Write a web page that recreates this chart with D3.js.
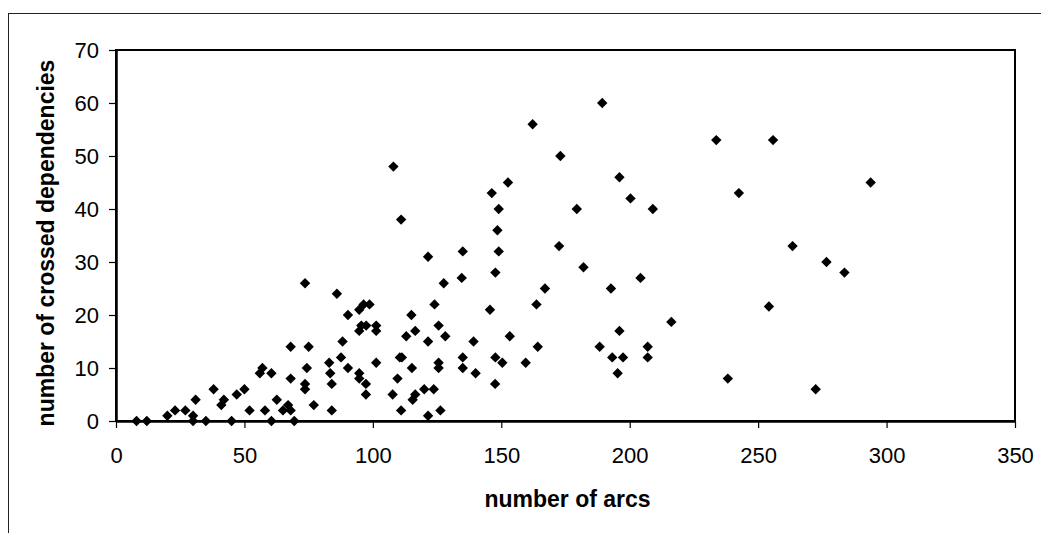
<!DOCTYPE html>
<html>
<head>
<meta charset="utf-8">
<script src="https://cdn.jsdelivr.net/npm/d3@7"></script>
<style>
  html, body { margin: 0; padding: 0; background: #fff; }
  svg { display: block; }
  text { font-family: "Liberation Sans", Arial, Helvetica, sans-serif; fill: #000; }
</style>
</head>
<body>
<svg id="chart" width="1041" height="533"></svg>
<script>
// ---- data ----
const arcs = [
  8, 12, 20, 23, 27, 30, 30, 31, 35, 38, 41, 42, 45, 47, 50, 52, 56, 57, 58, 60.5,
  60.5, 62.6, 65, 67, 68, 68, 68, 69.4, 108, 111, 121.5, 135, 134.6, 73.6, 86, 127.6, 90.3, 94.7, 96.4, 98.7,
  124, 115, 94.7, 95.5, 97.4, 101.3, 101.3, 113, 116.5, 125.6, 128.2, 139.2, 121.5, 88.2, 75, 87.6, 83, 110.5, 111.3, 135,
  125.6, 125.6, 101.3, 74.3, 90.3, 115.2, 135, 140, 83.4, 94.7, 94.7, 109.6, 73.6, 73.6, 84, 97.3, 120, 123.7, 97.3, 107.7,
  116.5, 115.5, 77, 84, 111, 126.3, 121.5, 189.3, 162.2, 173, 196, 152.6, 146.3, 200.3, 149, 179.4, 209, 148.5,
  149, 172.5, 147.7, 182, 204.2, 167, 192.7, 163.7, 145.6, 153.3, 196, 164.2, 188.3, 207, 147.7, 150.4, 159.5, 193.2,
  197.4, 207, 195.3, 147.6, 233.7, 255.8, 242.5, 263.4, 276.6, 216.2, 254.2, 238.2, 272.4, 283.6, 293.8
];
const crossed = [
  0, 0, 1, 2, 2, 1, 0, 4, 0, 6, 3, 4, 0, 5, 6, 2, 9, 10, 2, 9,
  0, 4, 2, 3, 2, 14, 8, 0, 48, 38, 31, 32, 27, 26, 24, 26, 20, 21, 22, 22,
  22, 20, 17, 18, 18, 18, 17, 16, 17, 18, 16, 15, 15, 15, 14, 12, 11, 12, 12, 12,
  11, 10, 11, 10, 10, 10, 10, 9, 9, 9, 8, 8, 7, 6, 7, 7, 6, 6, 5, 5,
  5, 4, 3, 2, 2, 2, 1, 60, 56, 50, 46, 45, 43, 42, 40, 40, 40, 36,
  32, 33, 28, 29, 27, 25, 25, 22, 21, 16, 17, 14, 14, 14, 12, 11, 11, 12,
  12, 12, 9, 7, 53, 53, 43, 33, 30, 18.7, 21.6, 8, 6, 28, 45
];
const xTicks = [0, 50, 100, 150, 200, 250, 300, 350];
const yTicks = [0, 10, 20, 30, 40, 50, 60, 70];
const xTitle = "number of arcs";
const yTitle = "number of crossed dependencies";

// ---- layout ----
const svg = d3.select("#chart");
const pLeft = 116, pRight = 1015, pTop = 50, pBottom = 421;

const x = d3.scaleLinear().domain([0, 350]).range([pLeft, pRight]);
const y = d3.scaleLinear().domain([0, 70]).range([pBottom, pTop]);

// outer frame (cropped at right/bottom)
svg.append("rect")
  .attr("x", 8.5).attr("y", 13.5)
  .attr("width", 1100).attr("height", 600)
  .attr("fill", "none").attr("stroke", "#222").attr("stroke-width", 1);

// plot area border
svg.append("rect")
  .attr("x", pLeft).attr("y", pTop)
  .attr("width", pRight - pLeft).attr("height", pBottom - pTop)
  .attr("fill", "none").attr("stroke", "#000").attr("stroke-width", 2);

// x axis
const gx = svg.append("g")
  .attr("transform", `translate(0,${pBottom})`)
  .call(d3.axisBottom(x).tickValues(xTicks).tickSize(7).tickSizeOuter(0).tickFormat(d3.format("d")));
gx.select(".domain").attr("stroke", "#000").attr("stroke-width", 2.5);
gx.selectAll(".tick line").attr("stroke", "#000").attr("stroke-width", 1.2);
gx.selectAll(".tick text")
  .attr("y", 42).attr("dy", 0)
  .style("font-size", "22px");

// y axis
const gy = svg.append("g")
  .attr("transform", `translate(${pLeft},0)`)
  .call(d3.axisLeft(y).tickValues(yTicks).tickSize(7).tickSizeOuter(0).tickPadding(10).tickFormat(d3.format("d")));
gy.select(".domain").attr("stroke", "#000").attr("stroke-width", 2.5);
gy.selectAll(".tick line").attr("stroke", "#000").attr("stroke-width", 1.2);
gy.selectAll(".tick text")
  .attr("dy", "0.36em")
  .style("font-size", "22px");

// titles
svg.append("text")
  .attr("x", (pLeft + pRight) / 2 + 2).attr("y", 507)
  .attr("text-anchor", "middle")
  .style("font-size", "23px").style("font-weight", "bold")
  .text(xTitle);

svg.append("text")
  .attr("transform", `translate(54,${243}) rotate(-90)`)
  .attr("text-anchor", "middle")
  .style("font-size", "23px").style("font-weight", "bold")
  .text(yTitle);

// points
const pts = arcs.map((a, i) => ({ a, c: crossed[i] }));
const diamond = d3.symbol().type(d3.symbolSquare).size(54);
svg.append("g").selectAll("path")
  .data(pts)
  .join("path")
  .attr("d", diamond)
  .attr("transform", d => `translate(${x(d.a)},${y(d.c)}) rotate(45)`)
  .attr("fill", "#000");
</script>
</body>
</html>
